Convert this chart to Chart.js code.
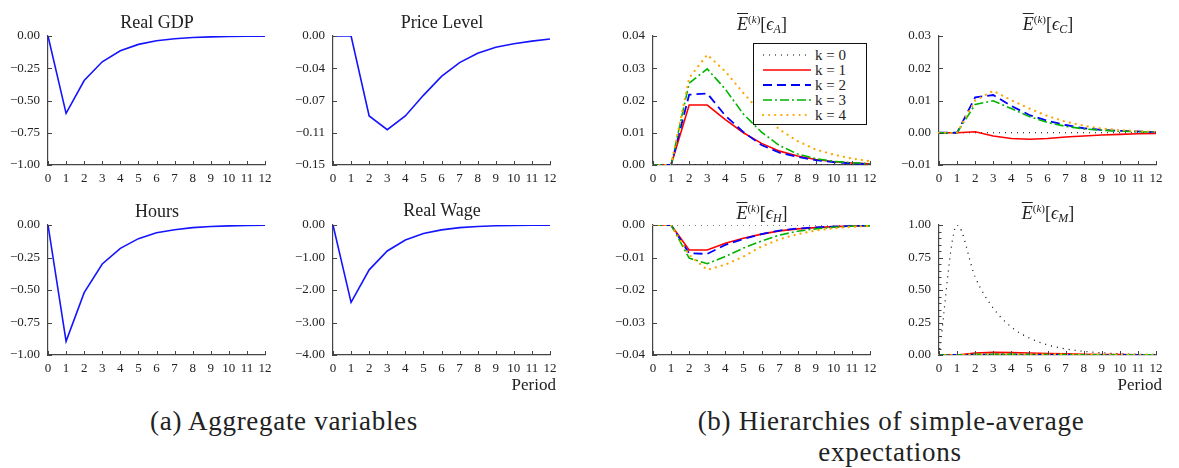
<!DOCTYPE html>
<html>
<head>
<meta charset="utf-8">
<script src="https://cdn.jsdelivr.net/npm/chart.js@4.4.0/dist/chart.umd.min.js"></script>
<style>
body{margin:0;background:#fff;width:1179px;height:468px;overflow:hidden;position:relative;font-family:"Liberation Serif","DejaVu Serif",serif;color:#222}
.ttl{position:absolute;font-size:18px;line-height:20px;white-space:nowrap;transform:translateX(-50%)}
.ov{text-decoration:overline}
.ttl sup{font-size:11px;vertical-align:7px}
.ttl sub{font-size:12px;vertical-align:-3px}
.per{position:absolute;font-size:17px;line-height:20px;transform:translateX(-100%)}
.cap{position:absolute;font-size:27px;letter-spacing:0.7px;line-height:30px;white-space:nowrap;transform:translateX(-50%)}
#legend{position:absolute;left:753px;top:43px;width:112px;height:80px;border:1px solid #111;background:#fff}
.row{position:absolute;left:0;height:15px;width:112px;font-size:15px;line-height:15px}
.row svg{position:absolute;left:8px;top:2px}
.row span{position:absolute;left:61px;top:0}
</style>
</head>
<body>

<div class="ttl" style="left:157px;top:12px">Real GDP</div>
<div class="ttl" style="left:442px;top:12px">Price Level</div>
<div class="ttl" style="left:762px;top:9px"><span class="ov"><i>E</i></span><sup>(<i>k</i>)</sup>[<i>ϵ</i><sub><i>A</i></sub>]</div>
<div class="ttl" style="left:1048px;top:9px"><span class="ov"><i>E</i></span><sup>(<i>k</i>)</sup>[<i>ϵ</i><sub><i>C</i></sub>]</div>
<div class="ttl" style="left:157px;top:201px">Hours</div>
<div class="ttl" style="left:442px;top:200px">Real Wage</div>
<div class="ttl" style="left:762px;top:198px"><span class="ov"><i>E</i></span><sup>(<i>k</i>)</sup>[<i>ϵ</i><sub><i>H</i></sub>]</div>
<div class="ttl" style="left:1048px;top:198px"><span class="ov"><i>E</i></span><sup>(<i>k</i>)</sup>[<i>ϵ</i><sub><i>M</i></sub>]</div>

<div class="per" style="left:556px;top:375px">Period</div>
<div class="per" style="left:1162px;top:375px">Period</div>

<div class="cap" style="left:284px;top:406px">(a) Aggregate variables</div>
<div class="cap" style="left:891px;top:406px">(b) Hierarchies of simple-average</div>
<div class="cap" style="left:890px;top:437px">expectations</div>

<div id="legend"></div>

<script>
const serif = '"Liberation Serif", "DejaVu Serif", serif'
Chart.defaults.font.family = serif

// periods on the x axis
const periods = ['0','1','2','3','4','5','6','7','8','9','10','11','12']

// (a) aggregate variables
const realGDP = [0,-0.60,-0.345,-0.20,-0.114,-0.065,-0.037,-0.021,-0.012,-0.007,-0.004,-0.002,-0.001]
const priceLevel = [0,0,-0.093,-0.109,-0.093,-0.069,-0.047,-0.031,-0.020,-0.013,-0.009,-0.006,-0.0035]
const hours = [0,-0.895,-0.52,-0.30,-0.18,-0.105,-0.06,-0.036,-0.02,-0.012,-0.007,-0.004,-0.002]
const realWage = [0,-2.38,-1.38,-0.80,-0.46,-0.26,-0.15,-0.08,-0.045,-0.025,-0.014,-0.008,-0.004]

// (b) hierarchies of expectations, k = 0..4
const kLabels = ['k = 0','k = 1','k = 2','k = 3','k = 4']

const eA_k0 = [0,0,0,0,0,0,0,0,0,0,0,0,0]
const eA_k1 = [0,0,0.0186,0.0186,0.0141,0.0100,0.0067,0.0043,0.0028,0.0017,0.0010,0.0006,0.0004]
const eA_k2 = [0,0,0.0218,0.0222,0.0153,0.0102,0.0062,0.0038,0.0025,0.0015,0.0009,0.0005,0.0003]
const eA_k3 = [0,0,0.0254,0.0298,0.0235,0.0158,0.0102,0.0060,0.0034,0.0020,0.0011,0.0007,0.0004]
const eA_k4 = [0,0,0.0270,0.0342,0.0290,0.0223,0.0161,0.0110,0.0074,0.0048,0.0032,0.0020,0.0012]

const eC_k0 = [0,0,0,0,0,0,0,0,0,0,0,0,0]
const eC_k1 = [0,0,0.0003,-0.0010,-0.0018,-0.0020,-0.0018,-0.0013,-0.0010,-0.0007,-0.0005,-0.0003,-0.0002]
const eC_k2 = [0,0,0.0110,0.0117,0.0083,0.0055,0.0037,0.0024,0.0014,0.0009,0.0006,0.0004,0.0002]
const eC_k3 = [0,0,0.0088,0.0099,0.0075,0.0050,0.0032,0.0020,0.0012,0.0008,0.0005,0.0003,0.0002]
const eC_k4 = [0,0,0.0100,0.0130,0.0101,0.0075,0.0052,0.0034,0.0022,0.0013,0.0008,0.0005,0.0003]

const eH_k0 = [0,0,0,0,0,0,0,0,0,0,0,0,0]
const eH_k1 = [0,0,-0.0077,-0.0077,-0.0056,-0.0041,-0.0028,-0.0018,-0.0012,-0.0008,-0.0005,-0.0003,-0.0002]
const eH_k2 = [0,0,-0.0087,-0.0089,-0.0061,-0.0043,-0.0028,-0.0017,-0.0011,-0.0007,-0.0005,-0.0003,-0.0002]
const eH_k3 = [0,0,-0.0102,-0.0119,-0.0097,-0.0071,-0.0049,-0.0031,-0.0019,-0.0012,-0.0007,-0.0004,-0.0002]
const eH_k4 = [0,0,-0.0092,-0.0138,-0.0122,-0.0097,-0.0066,-0.0044,-0.0028,-0.0017,-0.0010,-0.0006,-0.0003]

const eM_k0 = [0,1.0,0.60,0.36,0.215,0.13,0.078,0.047,0.028,0.017,0.010,0.006,0.004]
const eM_k1 = [0,0,0.015,0.020,0.018,0.015,0.012,0.009,0.006,0.004,0.003,0.002,0.001]
const eM_k2 = [0,0,0.002,0.002,0.002,0.002,0.001,0.001,0.001,0.001,0.001,0,0]
const eM_k3 = [0,0,0.005,0.006,0.005,0.004,0.003,0.003,0.002,0.002,0.001,0.001,0.001]
const eM_k4 = [0,0,0.006,0.008,0.007,0.006,0.005,0.004,0.003,0.002,0.002,0.001,0.001]

// y tick values and their printed labels
const tickGDP = [-1,-0.75,-0.5,-0.25,0]
const labGDP = ['−1.00','−0.75','−0.50','−0.25','0.00']
const tickPrice = [-0.15,-0.1125,-0.075,-0.0375,0]
const labPrice = ['−0.15','−0.11','−0.07','−0.04','0.00']
const tickWage = [-4,-3,-2,-1,0]
const labWage = ['−4.00','−3.00','−2.00','−1.00','0.00']
const tickA = [0,0.01,0.02,0.03,0.04]
const labA = ['0.00','0.01','0.02','0.03','0.04']
const tickC = [-0.01,0,0.01,0.02,0.03]
const labC = ['−0.01','0.00','0.01','0.02','0.03']
const tickH = [-0.04,-0.03,-0.02,-0.01,0]
const labH = ['−0.04','−0.03','−0.02','−0.01','0.00']
const tickM = [0,0.25,0.5,0.75,1]
const labM = ['0.00','0.25','0.50','0.75','1.00']
const minorM = [0.05,0.1,0.15,0.2,0.3,0.35,0.4,0.45,0.55,0.6,0.65,0.7,0.8,0.85,0.9,0.95]

// line styles for k = 0..4
const kStyles = [
  {color:'#000000', dash:[1,5], width:1.2, cap:'butt'},
  {color:'#ff0000', dash:[], width:1.6, cap:'butt'},
  {color:'#0000ff', dash:[9,5], width:1.8, cap:'butt'},
  {color:'#00b400', dash:[9,3,2,3], width:1.6, cap:'butt'},
  {color:'#ffa500', dash:[0.1,6], width:2.2, cap:'round'}
]

// plot rectangles on the page
const colLeft = [48,333,653,939]
const colRight = [265,550,870,1156]
const rowTop = [36,225]
const rowBottom = [165,355]
const axisW = 48, axisH = 24, padTop = 10, padRight = 14

const tickMarks = {
  id:'tickMarks',
  afterDraw(chart, args, opts){
    const ctx = chart.ctx, a = chart.chartArea
    const x = chart.scales.x, y = chart.scales.y
    ctx.save()
    ctx.strokeStyle = '#444'
    ctx.lineWidth = 1
    ctx.beginPath()
    x.ticks.forEach((t,i)=>{
      const px = Math.round(x.getPixelForTick(i))+0.5
      ctx.moveTo(px,a.bottom); ctx.lineTo(px,a.bottom-4)
    })
    y.ticks.forEach((t,i)=>{
      const py = Math.round(y.getPixelForTick(i))+0.5
      ctx.moveTo(a.left,py); ctx.lineTo(a.left+4,py)
    })
    for (const v of (opts.minor||[])){
      const py = Math.round(y.getPixelForValue(v))+0.5
      ctx.moveTo(a.left,py); ctx.lineTo(a.left+2.5,py)
    }
    ctx.stroke()
    ctx.restore()
  }
}

const blueLine = function(data){
  return [{data:data, borderColor:'#1414ff', borderWidth:1.6}]
}

const kLines = function(list, smoothFirst){
  const out = []
  list.forEach((data,i)=>{
    const s = kStyles[i]
    out.push({
      label:kLabels[i], data:data, borderColor:s.color, borderWidth:s.width,
      borderDash:s.dash, borderCapStyle:s.cap,
      cubicInterpolationMode:(smoothFirst && i==0) ? 'monotone' : 'default',
      order:-i
    })
  })
  return out
}

const makeChart = function(col, row, datasets, yTicks, yLabels, minor){
  const cv = document.createElement('canvas')
  const w = colRight[col]-colLeft[col]+axisW+padRight
  const h = rowBottom[row]-rowTop[row]+padTop+axisH
  cv.width = w
  cv.height = h
  cv.style.cssText = `position:absolute;left:${colLeft[col]-axisW}px;top:${rowTop[row]-padTop}px;width:${w}px;height:${h}px`
  document.body.insertBefore(cv, document.body.firstChild)
  new Chart(cv, {
    type:'line',
    data:{labels:periods, datasets:datasets},
    plugins:[tickMarks],
    options:{
      responsive:false, animation:false, devicePixelRatio:1,
      layout:{padding:{top:padTop, right:padRight, left:0, bottom:0}},
      elements:{point:{radius:0}, line:{tension:0}},
      plugins:{legend:{display:false}, tooltip:{enabled:false}, tickMarks:{minor:minor||[]}},
      scales:{
        x:{
          type:'category', offset:false,
          grid:{drawOnChartArea:false, drawTicks:false},
          border:{color:'#444', width:1.2},
          ticks:{font:{family:serif, size:13}, color:'#222', padding:6, maxRotation:0, autoSkip:false},
          afterFit(s){ s.height = axisH; s.paddingLeft = 0; s.paddingRight = 0 }
        },
        y:{
          min:Math.min(...yTicks), max:Math.max(...yTicks),
          grid:{drawOnChartArea:false, drawTicks:false},
          border:{color:'#444', width:1.2},
          afterBuildTicks(s){ s.ticks = yTicks.map(v=>({value:v})) },
          ticks:{
            font:{family:serif, size:13}, color:'#222', padding:8,
            callback:function(v){
              const i = yTicks.findIndex(t=>Math.abs(t-v)<1e-9)
              return i<0 ? '' : yLabels[i]
            }
          },
          afterFit(s){ s.width = axisW; s.paddingTop = 0; s.paddingBottom = 0 }
        }
      }
    }
  })
}

const makeLegend = function(){
  const box = document.querySelector('#legend')
  let html = ''
  kLabels.forEach((lab,i)=>{
    const s = kStyles[i]
    html += `<div class="row" style="top:${4+i*15}px">
      <svg width="50" height="10"><line x1="1" y1="5" x2="49" y2="5" stroke="${s.color}" stroke-width="${s.width}"
        stroke-dasharray="${s.dash.join(' ')}" stroke-linecap="${s.cap}"/></svg>
      <span>${lab}</span></div>`
  })
  box.innerHTML = html
}

document.addEventListener('DOMContentLoaded', function(){
  makeChart(0,0, blueLine(realGDP), tickGDP, labGDP)
  makeChart(1,0, blueLine(priceLevel), tickPrice, labPrice)
  makeChart(0,1, blueLine(hours), tickGDP, labGDP)
  makeChart(1,1, blueLine(realWage), tickWage, labWage)
  makeChart(2,0, kLines([eA_k0,eA_k1,eA_k2,eA_k3,eA_k4]), tickA, labA)
  makeChart(3,0, kLines([eC_k0,eC_k1,eC_k2,eC_k3,eC_k4]), tickC, labC)
  makeChart(2,1, kLines([eH_k0,eH_k1,eH_k2,eH_k3,eH_k4]), tickH, labH)
  makeChart(3,1, kLines([eM_k0,eM_k1,eM_k2,eM_k3,eM_k4], true), tickM, labM, minorM)
  makeLegend()
})
</script>
</body>
</html>
